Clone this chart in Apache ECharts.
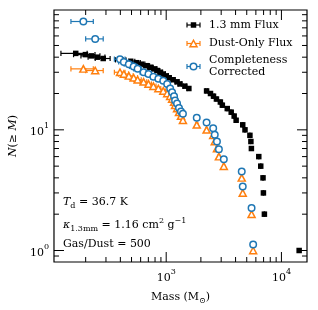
<!DOCTYPE html>
<html><head><meta charset="utf-8">
<script src="https://cdn.jsdelivr.net/npm/echarts@6/dist/echarts.min.js"></script>
<style>html,body{margin:0;padding:0;background:#fff}#c{width:318px;height:310px}</style>
</head><body><div id="c"></div>
<script>
// 1.3 mm flux masses (Msun) and cumulative counts
const fluxMass = [164, 199, 224, 252, 284, 405, 492, 554, 611, 675, 730, 790, 838, 889, 943, 1000, 1061, 1148, 1242, 1317, 1453, 1573, 2241, 2423, 2573, 2729, 2951, 3070, 3388, 3666, 3889, 4045, 4615, 4828, 5328, 5433, 5487, 6360, 6615, 6922, 6977, 7115, 14250];
const fluxN = [43, 42, 41, 40, 39, 38, 37, 36, 35, 34, 33, 32, 31, 30, 29, 28, 27, 26, 25, 24, 23, 22, 21, 20, 19, 18, 17, 16, 15, 14, 13, 12, 11, 10, 9, 8, 7, 6, 5, 4, 3, 2, 1];
// dust-only flux
const dustMass = [191, 242, 397, 429, 474, 522, 565, 636, 702, 774, 855, 943, 1020, 1082, 1125, 1170, 1194, 1242, 1291, 1343, 1397, 1841, 2241, 2557, 2638, 2757, 2866, 3162, 4524, 4615, 5506, 5683];
const dustN = [32, 31, 30, 29, 28, 27, 26, 25, 24, 23, 22, 21, 20, 19, 18, 17, 16, 15, 14, 13, 12, 11, 10, 9, 8, 7, 6, 5, 4, 3, 2, 1];
// completeness corrected
const corrMass = [191, 242, 397, 429, 474, 522, 565, 636, 702, 774, 855, 943, 1020, 1082, 1125, 1170, 1194, 1242, 1291, 1343, 1397, 1841, 2241, 2557, 2638, 2757, 2866, 3162, 4524, 4615, 5506, 5683];
const corrN = [79, 56.7, 38.5, 36.5, 35, 33.5, 32, 30, 29, 27.5, 26.5, 25.5, 24, 22, 20.5, 19, 17.5, 16.5, 15.2, 14.2, 13.6, 12.6, 11.5, 10.3, 9.1, 8.0, 6.9, 5.7, 4.52, 3.39, 2.25, 1.12];
const massErr = 42;

const xMajorTicks = [1000, 10000];
const xMinorTicks = [200, 300, 400, 500, 600, 700, 800, 900, 2000, 3000, 4000, 5000, 6000, 7000, 8000, 9000];
const yMajorTicks = [1, 10];
const yMinorTicks = [0.9, 2, 3, 4, 5, 6, 7, 8, 9, 20, 30, 40, 50, 60, 70, 80, 90];

const X_MIN = 106.2, X_MAX = 16670, Y_MIN = 0.803, Y_MAX = 98.4;
const FONT = '"DejaVu Serif", serif';
const BLACK = '#000000', ORANGE = '#ff7f0e', BLUE = '#1f77b4';

const chart = echarts.init(document.getElementById('c'), null, {renderer: 'canvas'});

function supFmt(v) {
  const l = Math.log10(v);
  const r = Math.round(l);
  if (Math.abs(l - r) > 1e-6) return '';
  return '{b|10}{s|' + r + '}';
}
const labelRich = {
  b: {fontFamily: FONT, fontSize: 11, color: '#000', lineHeight: 16, verticalAlign: 'bottom'},
  s: {fontFamily: FONT, fontSize: 8, color: '#000', lineHeight: 16, verticalAlign: 'top'}
};

function errRender(color) {
  return function (params, api) {
    const m = api.value(0), n = api.value(1), e = api.value(2);
    const p1 = api.coord([m - e, n]), p2 = api.coord([m + e, n]);
    const c = 2.6;
    const st = {stroke: color, lineWidth: 1.2};
    return {type: 'group', children: [
      {type: 'line', shape: {x1: p1[0], y1: p1[1], x2: p2[0], y2: p2[1]}, style: st},
      {type: 'line', shape: {x1: p1[0], y1: p1[1] - c, x2: p1[0], y2: p1[1] + c}, style: st},
      {type: 'line', shape: {x1: p2[0], y1: p2[1] - c, x2: p2[0], y2: p2[1] + c}, style: st}
    ]};
  };
}

function tickRender(isX) {
  return function (params, api) {
    const cs = params.coordSys;
    const len = api.value(2) ? 10 : 5;
    const st = {stroke: '#000', lineWidth: 1};
    if (isX) {
      const x = api.coord([api.value(0), 1])[0];
      const yb = cs.y + cs.height, yt = cs.y;
      return {type: 'group', children: [
        {type: 'line', shape: {x1: x, y1: yb, x2: x, y2: yb - len}, style: st},
        {type: 'line', shape: {x1: x, y1: yt, x2: x, y2: yt + len}, style: st}
      ]};
    } else {
      const y = api.coord([1000, api.value(1)])[1];
      const xl = cs.x, xr = cs.x + cs.width;
      return {type: 'group', children: [
        {type: 'line', shape: {x1: xl, y1: y, x2: xl + len, y2: y}, style: st},
        {type: 'line', shape: {x1: xr, y1: y, x2: xr - len, y2: y}, style: st}
      ]};
    }
  };
}

const xTickData = xMajorTicks.map(v => [v, 1, 1]).concat(xMinorTicks.map(v => [v, 1, 0]));
const yTickData = yMajorTicks.map(v => [1000, v, 1]).concat(yMinorTicks.map(v => [1000, v, 0]));

const series = [
  {type: 'custom', renderItem: tickRender(true), data: xTickData, encode: {x: 0, y: 1}, clip: false, silent: true, z: 10},
  {type: 'custom', renderItem: tickRender(false), data: yTickData, encode: {x: 0, y: 1}, clip: false, silent: true, z: 10},
  {type: 'custom', renderItem: errRender(BLACK), data: fluxMass.map((m, i) => [m, fluxN[i], massErr]), encode: {x: 0, y: 1}, z: 2},
  {type: 'scatter', data: fluxMass.map((m, i) => [m, fluxN[i]]), symbol: 'rect', symbolSize: 5.5,
    itemStyle: {color: BLACK, opacity: 1}, z: 2},
  {type: 'custom', renderItem: errRender(ORANGE), data: dustMass.map((m, i) => [m, dustN[i], massErr]), encode: {x: 0, y: 1}, z: 3},
  {type: 'scatter', data: dustMass.map((m, i) => [m, dustN[i]]), symbol: 'triangle', symbolSize: [7, 6.5],
    itemStyle: {color: '#fff', borderColor: ORANGE, borderWidth: 1.5, opacity: 1}, z: 3},
  {type: 'custom', renderItem: errRender(BLUE), data: corrMass.map((m, i) => [m, corrN[i], massErr]), encode: {x: 0, y: 1}, z: 4},
  {type: 'scatter', data: corrMass.map((m, i) => [m, corrN[i]]), symbol: 'circle', symbolSize: 6.5,
    itemStyle: {color: '#fff', borderColor: BLUE, borderWidth: 1.5, opacity: 1}, z: 4}
];

// legend drawn as graphic
function legendItem(y, color, kind) {
  const st = {stroke: color, lineWidth: 1.2};
  const ch = [
    {type: 'line', shape: {x1: 187, y1: y, x2: 200, y2: y}, style: st},
    {type: 'line', shape: {x1: 187, y1: y - 2.6, x2: 187, y2: y + 2.6}, style: st},
    {type: 'line', shape: {x1: 200, y1: y - 2.6, x2: 200, y2: y + 2.6}, style: st}
  ];
  if (kind === 'rect') ch.push({type: 'rect', shape: {x: 190.75, y: y - 2.75, width: 5.5, height: 5.5}, style: {fill: color}});
  if (kind === 'tri') ch.push({type: 'polygon', shape: {points: [[193.5, y - 3.25], [197, y + 3.25], [190, y + 3.25]]}, style: {fill: '#fff', stroke: color, lineWidth: 1.5}});
  if (kind === 'circ') ch.push({type: 'circle', shape: {cx: 193.5, cy: y, r: 3.25}, style: {fill: '#fff', stroke: color, lineWidth: 1.5}});
  return ch;
}
const txt = (x, y, t, rich) => ({type: 'text', x: x, y: y, style: {text: t, font: '11px ' + FONT, fill: '#000', align: 'left', verticalAlign: 'middle', rich: rich}});
const annRich = {
  n: {fontFamily: FONT, fontSize: 11, color: '#000', lineHeight: 16, verticalAlign: 'middle'},
  i: {fontFamily: FONT, fontSize: 11, fontStyle: 'italic', color: '#000', lineHeight: 16, verticalAlign: 'middle'},
  sub: {fontFamily: FONT, fontSize: 8, color: '#000', lineHeight: 16, verticalAlign: 'bottom'},
  sup: {fontFamily: FONT, fontSize: 8, color: '#000', lineHeight: 16, verticalAlign: 'top'}
};

const graphics = [].concat(
  legendItem(25, BLACK, 'rect'),
  legendItem(43.5, ORANGE, 'tri'),
  legendItem(66.5, BLUE, 'circ'),
  [
    txt(209, 25, '1.3 mm Flux'),
    txt(209, 43.5, 'Dust-Only Flux'),
    txt(209, 60.5, 'Completeness'),
    txt(209, 72.5, 'Corrected'),
    txt(63, 202, '{i|T}{sub|d}{n| = 36.7 K}', annRich),
    txt(63, 225, '{i|κ}{sub|1.3mm}{n| = 1.16 cm}{sup|2}{n| g}{sup|−1}', annRich),
    txt(63, 244, '{n|Gas/Dust = 500}', annRich)
  ]
);

chart.setOption({
  animation: false,
  backgroundColor: '#fff',
  grid: {left: 50, top: 10, right: 11, bottom: 44, show: true, borderColor: '#000', borderWidth: 1.2, backgroundColor: 'transparent'},
  xAxis: {
    type: 'log', logBase: 10, min: X_MIN, max: X_MAX,
    axisLine: {show: false}, axisTick: {show: false}, splitLine: {show: false}, minorTick: {show: false},
    axisLabel: {formatter: supFmt, rich: labelRich, margin: 6, showMinLabel: false, showMaxLabel: false},
    name: '{n|Mass (M}{sub|⊙}{n|)}', nameLocation: 'middle', nameGap: 27,
    nameTextStyle: {rich: {
      n: {fontFamily: FONT, fontSize: 11, color: '#000', lineHeight: 16, verticalAlign: 'middle'},
      sub: {fontFamily: FONT, fontSize: 8, color: '#000', lineHeight: 16, verticalAlign: 'bottom'}
    }}
  },
  yAxis: {
    type: 'log', logBase: 10, min: Y_MIN, max: Y_MAX,
    axisLine: {show: false}, axisTick: {show: false}, splitLine: {show: false}, minorTick: {show: false},
    axisLabel: {formatter: supFmt, rich: labelRich, margin: 5, showMinLabel: false, showMaxLabel: false},
    name: '{i|N}{n|(≥ }{i|M}{n|)}', nameLocation: 'middle', nameGap: 30,
    nameTextStyle: {rich: {
      n: {fontFamily: FONT, fontSize: 11, color: '#000', lineHeight: 16},
      i: {fontFamily: FONT, fontSize: 11, fontStyle: 'italic', color: '#000', lineHeight: 16}
    }}
  },
  series: series,
  graphic: graphics
});
</script>
</body></html>
